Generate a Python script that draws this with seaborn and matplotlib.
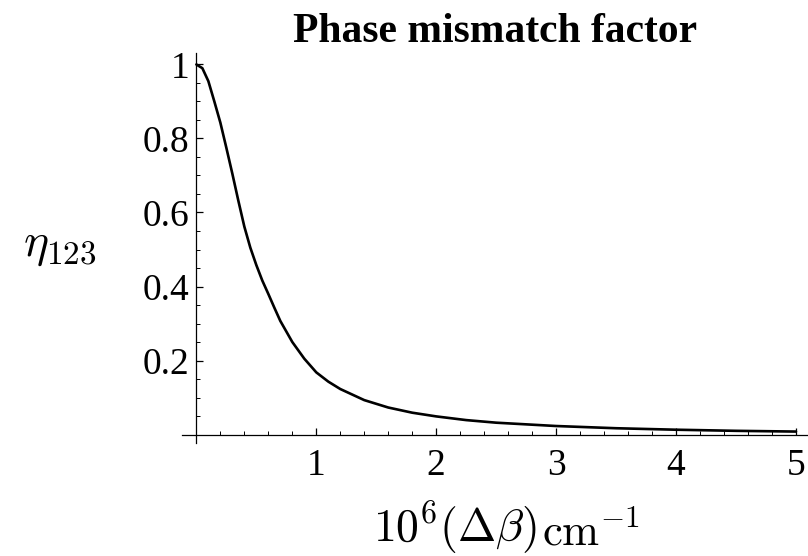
import numpy as np
import pandas as pd
import matplotlib
matplotlib.use("Agg")
import matplotlib.pyplot as plt
import seaborn as sns
from matplotlib.ticker import FixedLocator, FuncFormatter

# values
delta_beta = [0.00, 0.05, 0.10, 0.15, 0.20, 0.25, 0.30, 0.35, 0.40, 0.45,
              0.50, 0.55, 0.60, 0.65, 0.70, 0.80, 0.90, 1.00, 1.10, 1.20,
              1.40, 1.60, 1.80, 2.00, 2.25, 2.50, 3.00, 3.50, 4.00, 4.50, 5.00]
eta_123 = [1.000, 0.990, 0.955, 0.900, 0.843, 0.775, 0.705, 0.632, 0.562, 0.505,
           0.458, 0.416, 0.380, 0.343, 0.307, 0.250, 0.205, 0.168, 0.143, 0.123,
           0.093, 0.073, 0.059, 0.049, 0.039, 0.032, 0.023, 0.017, 0.013, 0.010, 0.008]

x_major = [1, 2, 3, 4, 5]
y_major = [0.2, 0.4, 0.6, 0.8, 1.0]

df = pd.DataFrame({"db": delta_beta, "eta": eta_123})

sns.set_style("ticks")
plt.rcParams["font.family"] = ["Liberation Serif", "DejaVu Serif"]
plt.rcParams["mathtext.fontset"] = "cm"
for key in ["text.color", "axes.labelcolor", "xtick.color", "ytick.color", "axes.edgecolor"]:
    plt.rcParams[key] = "black"

fig = plt.figure(figsize=(8.08, 5.56), dpi=100)
ax = fig.add_axes([0.2252, 0.2025, 0.7748, 0.7015])

sns.lineplot(data=df, x="db", y="eta", ax=ax, color="black", linewidth=1.9,
             sort=False, estimator=None)

ax.set_xlim(-0.12, 5.1)
ax.set_ylim(-0.024, 1.03)

# Mathematica style crossing axes
for side in ["top", "right"]:
    ax.spines[side].set_visible(False)
ax.spines["left"].set_position(("data", 0))
ax.spines["bottom"].set_position(("data", 0))
for side in ["left", "bottom"]:
    ax.spines[side].set_linewidth(0.9)

ax.xaxis.set_major_locator(FixedLocator(x_major))
ax.yaxis.set_major_locator(FixedLocator(y_major))
ax.xaxis.set_minor_locator(FixedLocator([i * 0.2 for i in range(1, 26)]))
ax.yaxis.set_minor_locator(FixedLocator([i * 0.05 for i in range(1, 21)]))
fmt = FuncFormatter(lambda v, p: "%g" % v)
ax.xaxis.set_major_formatter(fmt)
ax.yaxis.set_major_formatter(fmt)

ax.tick_params(which="major", direction="in", length=5, width=0.9, labelsize=27)
ax.tick_params(axis="x", which="major", pad=10)
ax.tick_params(axis="y", which="major", pad=5)
ax.tick_params(which="minor", direction="in", length=3, width=0.7)

# x label: main part plus a full size "cm" subscript like the reference
ax.set_xlabel(r"$10^6(\Delta\beta)$", fontsize=33, ha="left", va="baseline")
ax.xaxis.set_label_coords(0.305, -0.2528)
ax.text(0.575, -0.262, r"$\mathrm{cm}^{-1}$", fontsize=32, ha="left",
        va="baseline", transform=ax.transAxes)

ax.set_ylabel(r"$\eta_{123}$", fontsize=34, rotation=0, ha="center", va="center")
ax.yaxis.set_label_coords(-0.195, 0.505)

ax.set_title("Phase mismatch factor", fontsize=30, fontweight="bold", pad=8)

fig.savefig("out.png", dpi=100)
